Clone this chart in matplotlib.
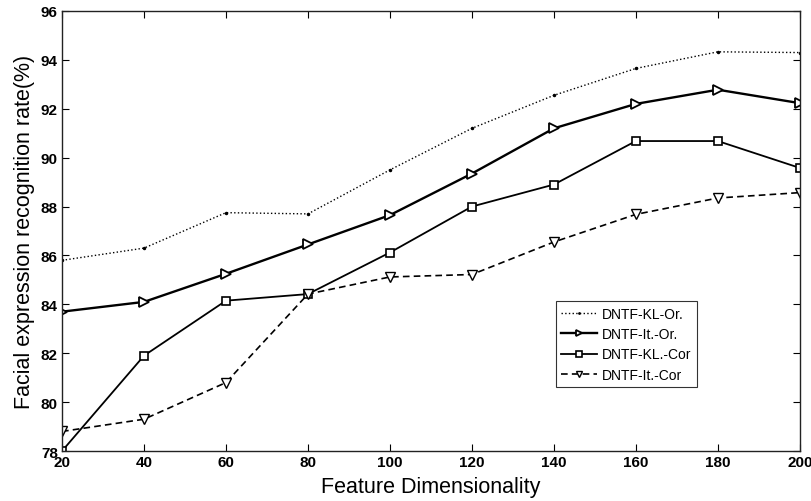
import matplotlib
matplotlib.use("Agg")
import matplotlib.pyplot as plt

plt.rcParams['font.family'] = ['Liberation Sans', 'DejaVu Sans']

dims = [20, 40, 60, 80, 100, 120, 140, 160, 180, 200]
kl_or = [85.8, 86.3, 87.75, 87.7, 89.5, 91.2, 92.55, 93.65, 94.33, 94.3]
it_or = [83.7, 84.1, 85.25, 86.45, 87.65, 89.35, 91.2, 92.2, 92.78, 92.23]
kl_cor = [78.0, 81.9, 84.15, 84.42, 86.12, 88.0, 88.9, 90.68, 90.68, 89.58]
it_cor = [78.8, 79.3, 80.8, 84.42, 85.12, 85.22, 86.55, 87.68, 88.35, 88.57]

xticks = [20, 40, 60, 80, 100, 120, 140, 160, 180, 200]
yticks = [78, 80, 82, 84, 86, 88, 90, 92, 94, 96]

fig = plt.figure(figsize=(8.12, 5.02), dpi=100)
ax = fig.add_axes([0.0764, 0.0996, 0.9086, 0.8765])

ax.plot(dims, kl_or, color='black', linestyle=':', linewidth=1.0,
        marker='.', markersize=3, label='DNTF-KL-Or.')
ax.plot(dims, it_or, color='black', linestyle='-', linewidth=1.7,
        marker='>', markersize=7.5, markerfacecolor='white', markeredgewidth=1.3,
        label='DNTF-It.-Or.')
ax.plot(dims, kl_cor, color='black', linestyle='-', linewidth=1.3,
        marker='s', markersize=6, markerfacecolor='white', markeredgewidth=1.2,
        label='DNTF-KL.-Cor')
ax.plot(dims, it_cor, color='black', linestyle='--', linewidth=1.2,
        dashes=(4, 2.5), marker='v', markersize=6.5, markerfacecolor='white',
        markeredgewidth=1.0, label='DNTF-It.-Cor')

ax.set_xlim(20, 200)
ax.set_ylim(78, 96)
ax.set_xticks(xticks)
ax.set_yticks(yticks)
ax.tick_params(direction='in', top=True, right=True, length=5, width=0.8,
               labelsize=11, pad=3)
for lbl in ax.get_xticklabels() + ax.get_yticklabels():
    lbl.set_fontweight('bold')
for sp in ax.spines.values():
    sp.set_linewidth(1.0)
    sp.set_color('#222222')

ax.set_xlabel('Feature Dimensionality', fontsize=15.5, labelpad=5)
ax.set_ylabel('Facial expression recognition rate(%)', fontsize=15.5, labelpad=4)

leg = ax.legend(loc='lower left', bbox_to_anchor=(0.669, 0.145), fontsize=10,
                frameon=True, fancybox=False, edgecolor='black',
                handlelength=2.6, borderpad=0.4, labelspacing=0.45,
                handletextpad=0.3, borderaxespad=0, markerscale=0.65)
leg.get_frame().set_linewidth(0.8)

fig.savefig('out.png', dpi=100)
